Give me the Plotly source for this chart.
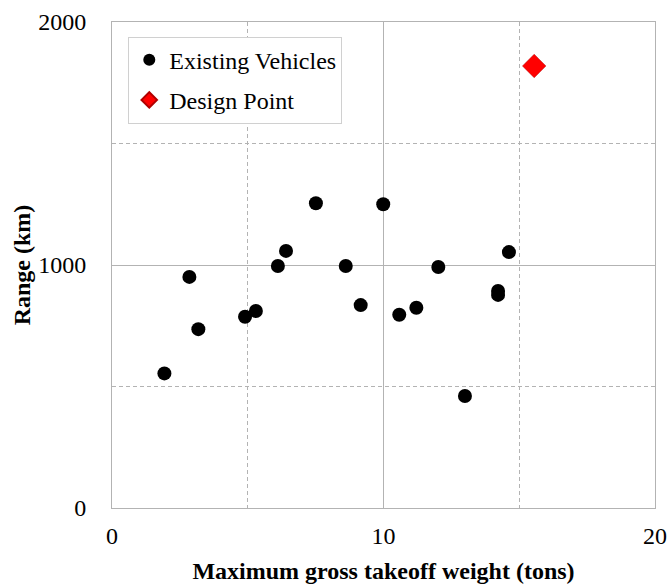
import plotly.graph_objects as go

# Existing vehicles: max gross takeoff weight (tons) and range (km)
existing_weight = [1.93, 2.85, 3.18, 4.90, 5.30, 6.11, 6.41, 7.51, 8.61, 9.16, 9.99,
                   10.58, 11.21, 12.02, 13.0, 14.22, 14.22, 14.62]
existing_range = [554, 951, 736, 787, 811, 996, 1058, 1254, 996, 835, 1250,
                  795, 824, 992, 461, 893, 877, 1053]

design_weight = [15.55]
design_range = [1819]

x_ticks = [0, 10, 20]
y_ticks = [0, 1000, 2000]

FONT = "Times New Roman, Liberation Serif, serif"
GRID = "#b3b3b3"

fig = go.Figure()
fig.add_trace(go.Scatter(
    x=existing_weight, y=existing_range, mode="markers",
    name="Existing Vehicles", legendgroup="a",
    marker=dict(symbol="circle", size=14, color="black"),
))
fig.add_trace(go.Scatter(
    x=design_weight, y=design_range, mode="markers",
    name="Design Point", legendgroup="b",
    marker=dict(symbol="diamond", size=18, color="#ff0000",
                line=dict(color="#b00000", width=0.5)),
))

axis_common = dict(
    showline=True, mirror=True, linecolor=GRID, linewidth=1,
    showgrid=True, gridcolor=GRID, gridwidth=1,
    zeroline=False, ticks="", automargin=False,
    tickfont=dict(family=FONT, size=24, color="black"),
)

fig.update_xaxes(
    range=[0, 20], tickvals=x_ticks, ticklabelstandoff=6,
    minor=dict(dtick=5, showgrid=True, gridcolor=GRID, griddash="4px,3px", gridwidth=1),
    title=dict(text="<b>Maximum gross takeoff weight (tons)</b>",
               font=dict(family=FONT, size=24, color="black"), standoff=16),
    **axis_common,
)
fig.update_yaxes(
    range=[0, 2000], tickvals=y_ticks, ticklabelstandoff=20,
    minor=dict(dtick=500, showgrid=True, gridcolor=GRID, griddash="4px,3px", gridwidth=1),
    title=dict(text="<b>Range (km)</b>",
               font=dict(family=FONT, size=24, color="black"), standoff=0),
    **axis_common,
)

fig.update_layout(
    width=670, height=584,
    margin=dict(l=112, r=15, t=22, b=76),
    paper_bgcolor="white", plot_bgcolor="white",
    showlegend=True,
    legend=dict(
        x=0.03, y=0.97, xanchor="left", yanchor="top",
        bgcolor="white", bordercolor="#d0d0d0", borderwidth=1,
        font=dict(family=FONT, size=24, color="black"),
        tracegroupgap=6, itemsizing="constant",
    ),
)

fig.write_html("out.html")
